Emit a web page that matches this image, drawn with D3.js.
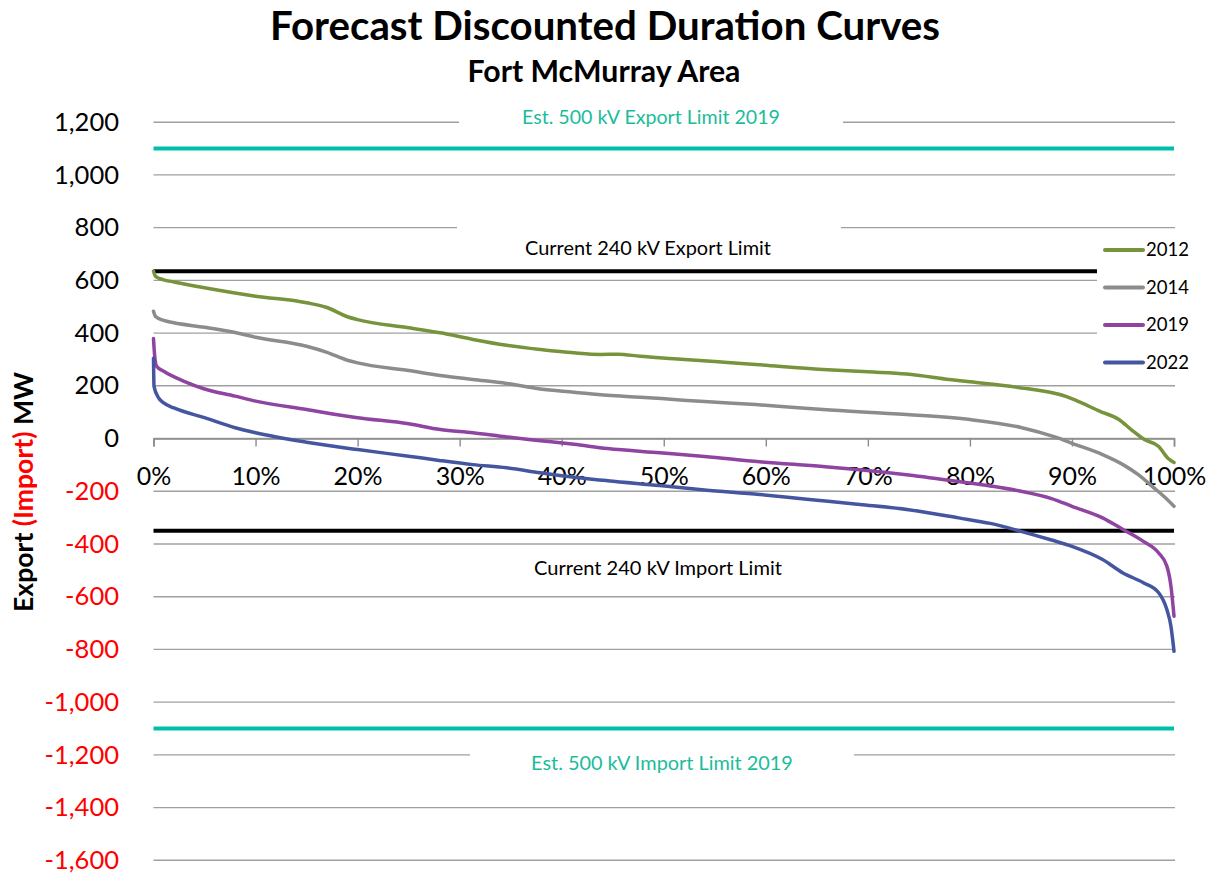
<!DOCTYPE html>
<html>
<head>
<meta charset="utf-8">
<script src="https://cdn.jsdelivr.net/npm/d3@7"></script>
<style>
  html, body { margin: 0; padding: 0; background: #fff; }
  svg { display: block; font-family: Lato, "Open Sans", "DejaVu Sans", sans-serif; }
</style>
</head>
<body>
<svg id="chart" width="1217" height="876"></svg>
<script>
// ---- data (x = % of hours, y = MW; positive = export, negative = import) ----
const seriesNames = ["2012", "2014", "2019", "2022"];
const seriesColors = ["#77933C", "#8C8C8C", "#8E44A0", "#4556A0"];

const x2012 = [0, 0.2, 1, 2, 5, 10, 15, 17, 19, 20, 25, 28.1, 31.3, 34.6, 37.9, 41.2, 43.8, 45.5, 47.7, 51, 55, 59, 65.6, 70, 73.8, 78, 80, 84.5, 89.4, 90.8, 92.7, 94.6, 95.8, 97.1, 98.5, 99.4, 100];
const y2012 = [635, 615, 602, 594, 572, 540, 515, 497, 462, 451, 420, 401, 376, 354, 338, 325, 319, 320, 312, 303, 292, 281, 262, 253, 245, 224, 215, 195, 160, 138, 104, 72, 34, -4, -30, -75, -91];

const x2014 = [0, 0.2, 1, 2, 5, 8, 10, 15, 17, 19, 20, 25, 28.1, 31.3, 34.6, 37.9, 41.2, 44.5, 47.7, 51, 53.6, 59, 65.6, 73.8, 80, 85, 88.4, 90, 93, 95, 96.5, 98, 99, 100];
const y2014 = [483, 463, 448, 439, 422, 402, 384, 350, 327, 297, 287, 258, 239, 224, 209, 188, 176, 164, 157, 148, 141, 129, 110, 91, 72, 42, 5, -18, -61, -99, -137, -186, -219, -257];

const x2019 = [0, 0.1, 0.3, 1, 3, 5, 8, 10, 15, 20, 25, 28.1, 31.3, 34.6, 37.9, 41.2, 44.5, 49.6, 54, 59.4, 65.6, 69.2, 74, 78.9, 82, 85, 88, 90, 93, 95, 97, 98.5, 99.3, 99.7, 100];
const y2019 = [379, 320, 274, 255, 217, 188, 161, 142, 110, 79, 56, 34, 22, 6, -8, -22, -38, -54, -68, -88, -106, -118, -138, -163, -180, -200, -228, -257, -301, -345, -390, -434, -484, -560, -674];

const x2022 = [0, 0.05, 0.5, 1, 2, 5, 8, 10, 15, 20, 25, 28, 31.3, 34.6, 37.9, 39.8, 44.5, 49.6, 54, 59.4, 64, 69.2, 74, 78.9, 82, 85, 88, 90, 93, 95, 97, 98.5, 99.3, 99.7, 100];
const y2022 = [305, 198, 154, 135, 116, 79, 41, 22, -14, -42, -67, -83, -99, -111, -130, -140, -160, -178, -195, -212, -230, -250, -270, -301, -322, -352, -385, -409, -459, -510, -547, -585, -649, -712, -807];

const seriesX = [x2012, x2014, x2019, x2022];
const seriesY = [y2012, y2014, y2019, y2022];

const yTicks = [1200, 1000, 800, 600, 400, 200, 0, -200, -400, -600, -800, -1000, -1200, -1400, -1600];
const xTicks = [0, 10, 20, 30, 40, 50, 60, 70, 80, 90, 100];

const limitValues = [1100, 635, -350, -1100];
const limitColors = ["#00BFA8", "#000000", "#000000", "#00BFA8"];
const limitLabels = ["Est. 500 kV Export Limit 2019", "Current 240 kV Export Limit", "Current 240 kV Import Limit", "Est. 500 kV Import Limit 2019"];
const limitLabelColors = ["#1BBC9B", "#000000", "#000000", "#1BBC9B"];

const titleText = "Forecast Discounted Duration Curves";
const subtitleText = "Fort McMurray Area";

// ---- layout ----
const svg = d3.select("#chart");
const left = 153.5, right = 1174;
const x = d3.scaleLinear().domain([0, 100]).range([left, right]);
const y = d3.scaleLinear().domain([-1600, 1200]).range([860.3, 122.2]);

const locale = d3.formatLocale({ decimal: ".", thousands: ",", grouping: [3], currency: ["$", ""], minus: "-" });
const fmt = locale.format(",");

function fitFont(sel, target) {
  const base = +sel.attr("font-size");
  const w = sel.node().getComputedTextLength();
  sel.attr("font-size", (base * target / w).toFixed(2));
  return base * target / w;
}

// gridlines
svg.append("g")
  .selectAll("line").data(yTicks).join("line")
  .attr("x1", left).attr("x2", right + 1)
  .attr("y1", d => y(d)).attr("y2", d => y(d))
  .attr("stroke", "#a0a0a0").attr("stroke-width", 1.4);

// x axis at 0 with downward ticks
const xAxis = d3.axisBottom(x).tickValues(xTicks).tickSize(8).tickFormat(d => d + "%");
const gx = svg.append("g").attr("transform", `translate(0,${y(0)})`).call(xAxis);
gx.select(".domain").attr("stroke", "#8c8c8c").attr("stroke-width", 1.6);
gx.selectAll(".tick line").attr("stroke", "#8c8c8c").attr("stroke-width", 1.4);
gx.selectAll(".tick text").attr("fill", "#000").attr("font-size", 25).attr("dy", null).attr("y", 46)
  .attr("font-family", "Lato, sans-serif");
{
  const probe = gx.selectAll(".tick text").filter(d => d === 40);
  const fs = fitFont(probe, 49);
  gx.selectAll(".tick text").attr("font-size", fs.toFixed(2));
}

// y axis labels (no line)
const yAxis = d3.axisLeft(y).tickValues(yTicks).tickSize(0).tickPadding(0).tickFormat(fmt);
const gy = svg.append("g").attr("transform", `translate(119,0)`).call(yAxis);
gy.select(".domain").remove();
gy.selectAll(".tick text").attr("fill", d => d < 0 ? "#FF0000" : "#000")
  .attr("font-size", 25).attr("font-family", "Lato, sans-serif").attr("x", 0);
{
  const probe = gy.selectAll(".tick text").filter(d => d === 1200);
  const fs = fitFont(probe, 65);
  gy.selectAll(".tick text").attr("font-size", fs.toFixed(2));
}

// label backgrounds (white boxes hiding gridlines) + limit lines
const labelBoxes = [[459, 100, 384, 36], [457, 226, 384, 40], [470, 553, 384, 30], [470, 742, 384, 36]];
svg.append("g").selectAll("rect").data(labelBoxes).join("rect")
  .attr("x", d => d[0]).attr("y", d => d[1]).attr("width", d => d[2]).attr("height", d => d[3])
  .attr("fill", "#fff");

svg.append("g").selectAll("line").data(limitValues).join("line")
  .attr("x1", x(0)).attr("x2", x(100))
  .attr("y1", d => y(d)).attr("y2", d => y(d))
  .attr("stroke", (d, i) => limitColors[i]).attr("stroke-width", 4);

const labelPos = [[651, 124, 258], [648, 255, 246], [658, 575, 248], [662, 770, 262]];
limitLabels.forEach((t, i) => {
  const s = svg.append("text").text(t)
    .attr("x", labelPos[i][0]).attr("y", labelPos[i][1])
    .attr("text-anchor", "middle").attr("font-size", 18)
    .attr("fill", limitLabelColors[i]);
  fitFont(s, labelPos[i][2]);
});

// curves
const line = d3.line().curve(d3.curveMonotoneX);
seriesNames.forEach((name, i) => {
  const pts = seriesX[i].map((v, j) => [x(v), y(seriesY[i][j])]);
  svg.append("path").attr("d", line(pts))
    .attr("fill", "none").attr("stroke", seriesColors[i])
    .attr("stroke-width", 3.5).attr("stroke-linejoin", "round").attr("stroke-linecap", "round");
});

// legend
svg.append("rect").attr("x", 1097).attr("y", 234).attr("width", 120).attr("height", 144).attr("fill", "#fff");
const legendY = [250, 287.5, 325, 362.5];
let legendFs = null;
seriesNames.forEach((name, i) => {
  svg.append("line").attr("x1", 1105).attr("x2", 1143)
    .attr("y1", legendY[i]).attr("y2", legendY[i])
    .attr("stroke", seriesColors[i]).attr("stroke-width", 4).attr("stroke-linecap", "round");
  const t = svg.append("text").text(name).attr("x", 1146).attr("y", legendY[i])
    .attr("dy", "0.35em").attr("font-size", 18).attr("fill", "#000");
  if (legendFs === null) legendFs = fitFont(t, 43);
  else t.attr("font-size", legendFs.toFixed(2));
});

// titles
const title = svg.append("text").text(titleText).attr("x", 605).attr("y", 40)
  .attr("text-anchor", "middle").attr("font-weight", "bold").attr("font-size", 36).attr("fill", "#000");
fitFont(title, 670);
const sub = svg.append("text").text(subtitleText).attr("x", 604).attr("y", 82)
  .attr("text-anchor", "middle").attr("font-weight", "bold").attr("font-size", 24).attr("fill", "#000");
fitFont(sub, 273);

// y axis title
const yt = svg.append("text").attr("transform", "translate(33,492) rotate(-90)")
  .attr("text-anchor", "middle").attr("font-weight", "bold").attr("font-size", 22);
yt.append("tspan").text("Export ").attr("fill", "#000");
yt.append("tspan").text("(Import)").attr("fill", "#FF0000");
yt.append("tspan").text(" MW").attr("fill", "#000");
fitFont(yt, 240);
</script>
</body>
</html>
